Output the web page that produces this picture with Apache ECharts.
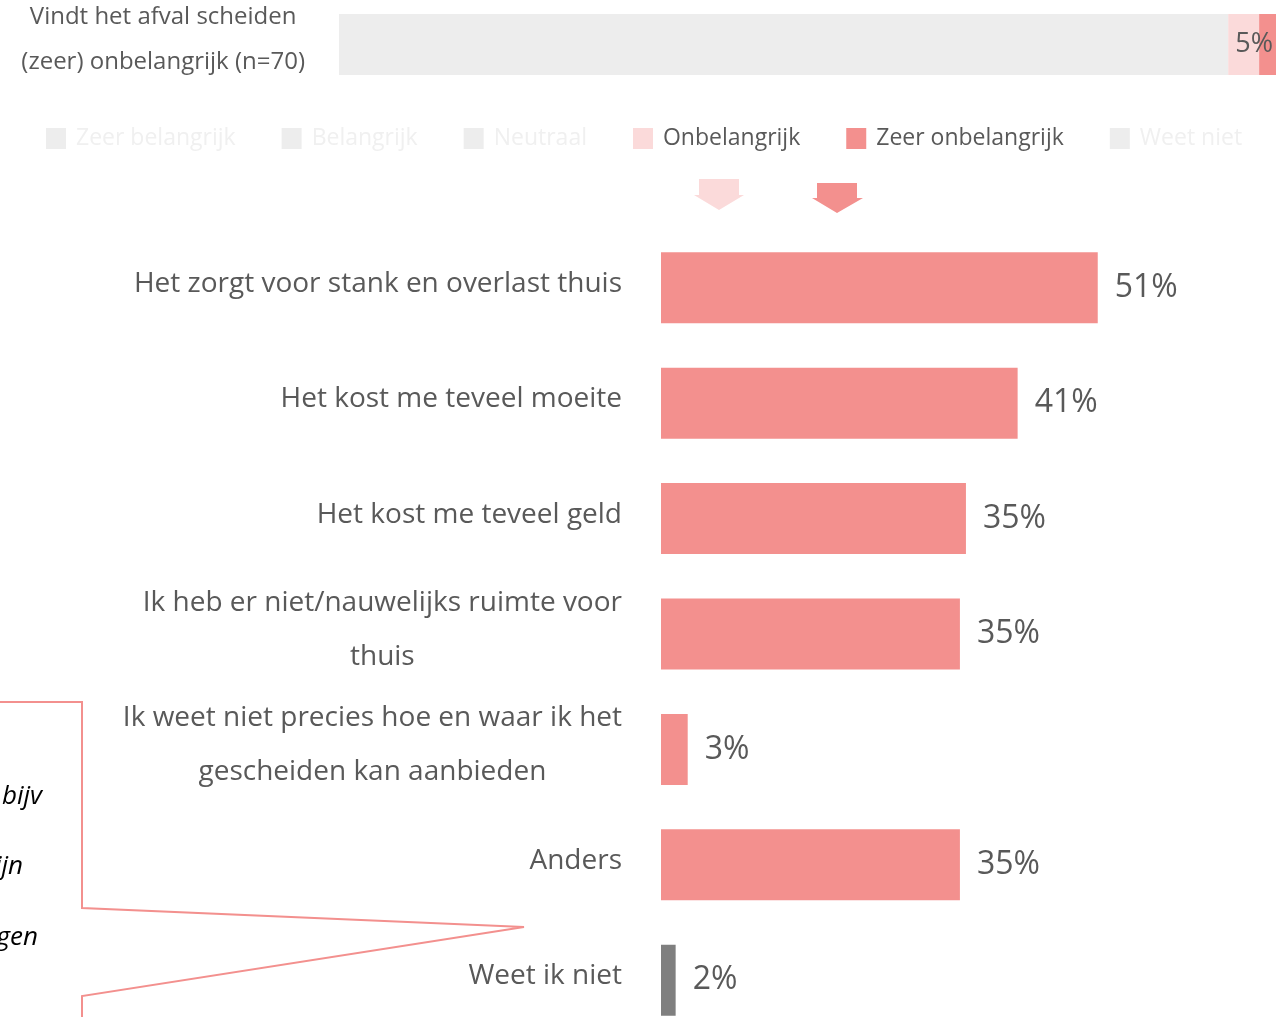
<!DOCTYPE html>
<html>
<head>
<meta charset="utf-8">
<script src="https://cdn.jsdelivr.net/npm/echarts@6/dist/echarts.min.js"></script>
<style>
  html, body { margin: 0; padding: 0; background: #fff; }
  #chart { width: 1279px; height: 1017px; }
</style>
</head>
<body>
<div id="chart"></div>
<script>
// bovenste balk: aandeel dat afval scheiden (zeer) onbelangrijk vindt
const topCategory = ['Vindt het afval scheiden\n(zeer) onbelangrijk (n=70)']
const topRest = [94.9]              // zeer belangrijk t/m neutraal (grijs)
const topOnbelangrijk = [3.3]
const topZeerOnbelangrijk = [1.8]

const legendNames = ['Zeer belangrijk', 'Belangrijk', 'Neutraal', 'Onbelangrijk', 'Zeer onbelangrijk', 'Weet niet']

// redenen
const reasons = [
  'Het zorgt voor stank en overlast thuis',
  'Het kost me teveel moeite',
  'Het kost me teveel geld',
  'Ik heb er niet/nauwelijks ruimte voor\nthuis',
  'Ik weet niet precies hoe en waar ik het\ngescheiden kan aanbieden',
  'Anders',
  'Weet ik niet'
]
const reasonValues = [50.7, 41.4, 35.4, 34.7, 3.1, 34.7, 1.7]

const salmon = '#F3908E'
const pink = '#FBDADA'
const gray = '#EDEDED'
const dark = '#7F7F7F'
const text = '#595959'
const font = 'Open Sans'

function centeredLines (v) {
  return v.split('\n').map(l => '{c|' + l + '}').join('\n')
}

let chart = echarts.init(document.getElementById('chart'))
let option = {
  animation: false,
  textStyle: { fontFamily: font },
  legend: {
    left: 46,
    top: 127,
    padding: 0,
    itemWidth: 20,
    itemHeight: 21,
    itemGap: 46,
    icon: 'rect',
    selectedMode: false,
    textStyle: { fontSize: 23, color: '#F0F0F0', fontFamily: font, padding: [0, 0, 11, 5] },
    data: legendNames.map(n => ({
      name: n,
      textStyle: { color: (n === 'Onbelangrijk' || n === 'Zeer onbelangrijk') ? text : '#F0F0F0' }
    }))
  },
  grid: [
    { left: 339, right: 3, top: 14, height: 61, outerBoundsMode: 'none' },
    { left: 661, right: 15, top: 230, height: 808, outerBoundsMode: 'none' }
  ],
  xAxis: [
    { gridIndex: 0, type: 'value', min: 0, max: 100, show: false },
    { gridIndex: 1, type: 'value', min: 0, max: 70, show: false }
  ],
  yAxis: [
    {
      gridIndex: 0,
      type: 'category',
      data: topCategory,
      axisLine: { show: false },
      axisTick: { show: false },
      axisLabel: {
        margin: 34,
        padding: [0, 0, 10, 0],
        formatter: centeredLines,
        rich: { c: { align: 'center', fontSize: 24, lineHeight: 45, color: text, fontFamily: font } }
      }
    },
    {
      gridIndex: 1,
      type: 'category',
      inverse: true,
      data: reasons,
      axisLine: { show: false },
      axisTick: { show: false },
      axisLabel: {
        margin: 39,
        padding: [0, 0, 8, 0],
        formatter: centeredLines,
        rich: { c: { align: 'center', fontSize: 28, lineHeight: 54, color: text, fontFamily: font } }
      }
    }
  ],
  series: [
    { name: 'Zeer belangrijk', type: 'bar', xAxisIndex: 0, yAxisIndex: 0, stack: 'top', color: gray, data: [] },
    { name: 'Belangrijk', type: 'bar', xAxisIndex: 0, yAxisIndex: 0, stack: 'top', color: gray, data: [] },
    { name: 'Neutraal', type: 'bar', xAxisIndex: 0, yAxisIndex: 0, stack: 'top', color: gray, data: [] },
    { name: 'Overig', type: 'bar', xAxisIndex: 0, yAxisIndex: 0, stack: 'top', color: gray, barWidth: 61, data: topRest },
    { name: 'Onbelangrijk', type: 'bar', xAxisIndex: 0, yAxisIndex: 0, stack: 'top', color: pink, barWidth: 61, data: topOnbelangrijk },
    {
      name: 'Zeer onbelangrijk',
      type: 'bar',
      xAxisIndex: 0,
      yAxisIndex: 0,
      stack: 'top',
      color: salmon,
      barWidth: 61,
      data: topZeerOnbelangrijk,
      label: {
        show: true,
        position: 'insideRight',
        distance: 3,
        fontSize: 27,
        color: text,
        fontFamily: font,
        formatter: p => Math.round(topOnbelangrijk[p.dataIndex] + p.value) + '%'
      }
    },
    { name: 'Weet niet', type: 'bar', xAxisIndex: 0, yAxisIndex: 0, stack: 'top', color: gray, data: [] },
    {
      name: 'Redenen',
      type: 'bar',
      xAxisIndex: 1,
      yAxisIndex: 1,
      barWidth: 71,
      color: salmon,
      data: reasonValues.map((v, i) => i === reasonValues.length - 1 ? { value: v, itemStyle: { color: dark } } : v),
      label: {
        show: true,
        position: 'right',
        distance: 17,
        fontSize: 32,
        color: text,
        fontFamily: font,
        formatter: p => Math.round(p.value) + '%'
      }
    }
  ],
  graphic: [
    // pijlen onder de legenda
    { type: 'polygon', shape: { points: [[699, 179], [739, 179], [739, 195], [744, 195], [719, 210], [694, 195], [699, 195]] }, style: { fill: pink } },
    { type: 'polygon', shape: { points: [[817, 183], [857, 183], [857, 198], [863, 198], [837, 213], [812, 198], [817, 198]] }, style: { fill: salmon } },
    // callout bij 'Anders'
    { type: 'polyline', shape: { points: [[-5, 702], [82, 702], [82, 908], [524, 927], [82, 996], [82, 1025]] }, style: { stroke: salmon, lineWidth: 2, fill: null } },
    { type: 'text', x: 42, y: 797, style: { text: 'bijv', align: 'right', verticalAlign: 'middle', font: 'italic 26px "Open Sans"', fill: '#000' } },
    { type: 'text', x: 23, y: 867, style: { text: 'ijn', align: 'right', verticalAlign: 'middle', font: 'italic 26px "Open Sans"', fill: '#000' } },
    { type: 'text', x: 38, y: 938, style: { text: 'gen', align: 'right', verticalAlign: 'middle', font: 'italic 26px "Open Sans"', fill: '#000' } }
  ]
}
chart.setOption(option)
</script>
</body>
</html>
